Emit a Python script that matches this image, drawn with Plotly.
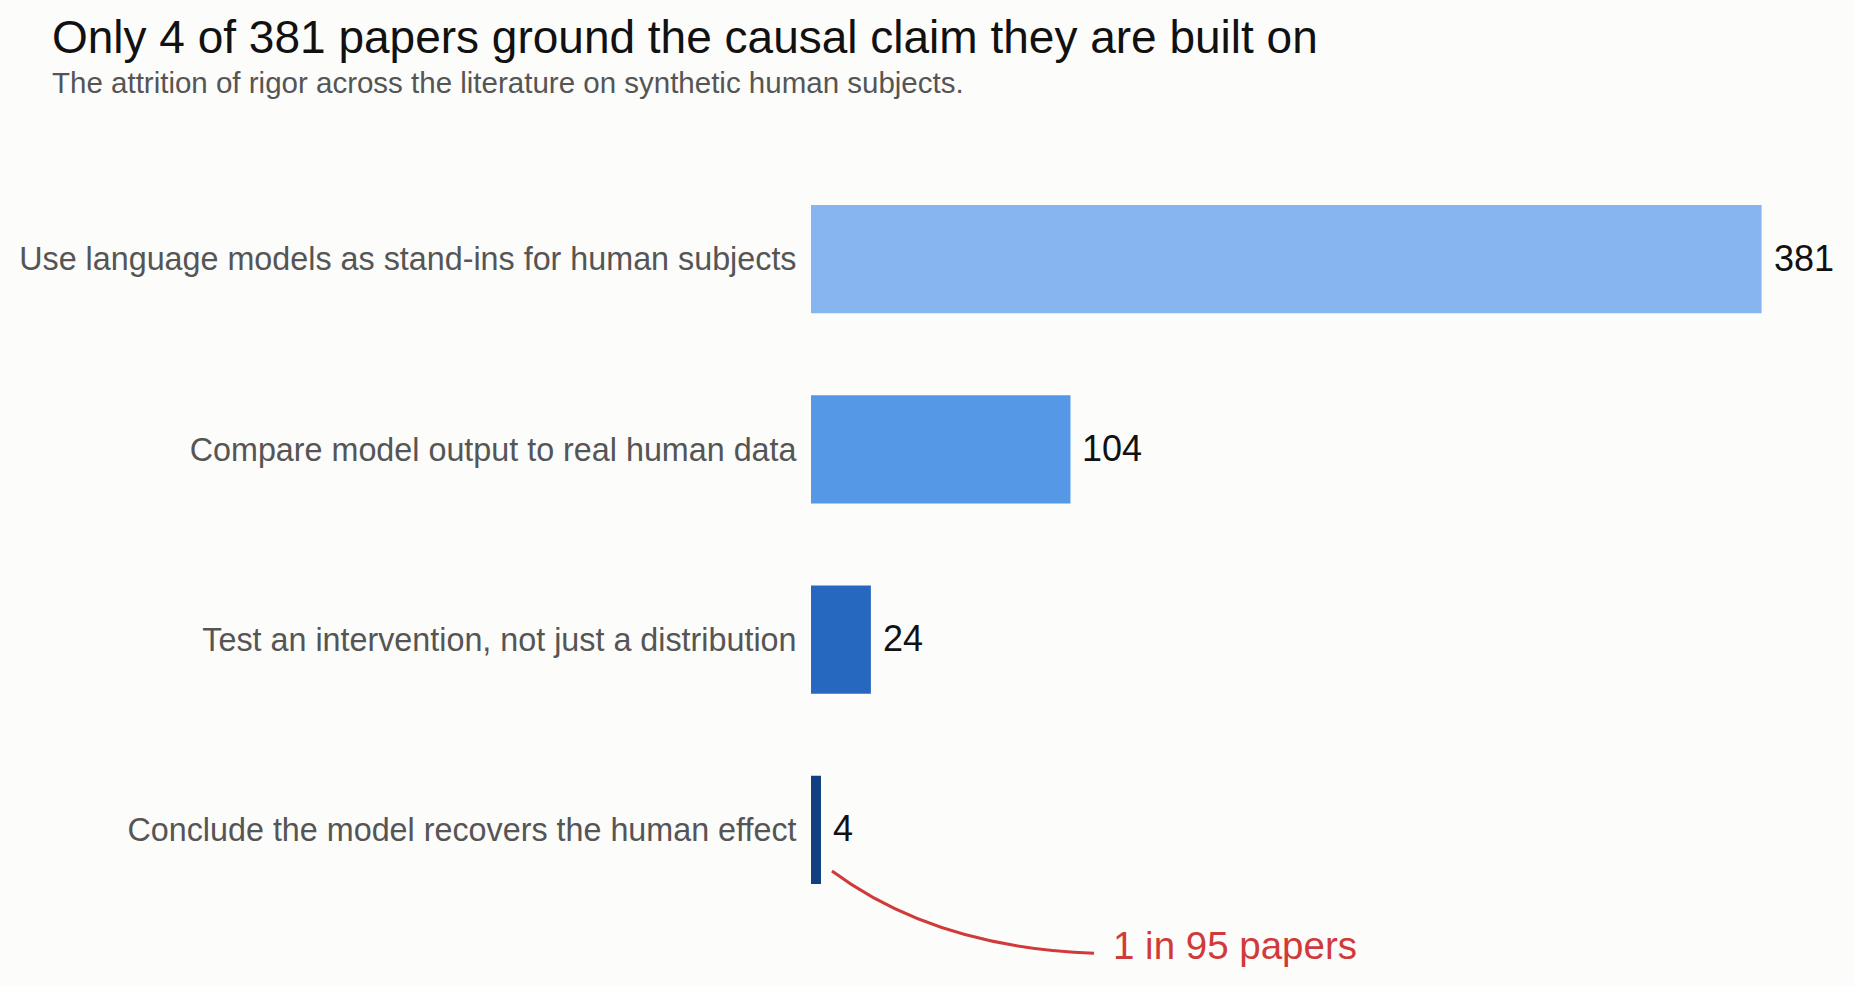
import plotly.graph_objects as go

categories = [
    "Use language models as stand-ins for human subjects",
    "Compare model output to real human data",
    "Test an intervention, not just a distribution",
    "Conclude the model recovers the human effect",
]
counts = [381, 104, 24, 4]
bar_colors = ["#86b5ef", "#5598e6", "#2668c0", "#103f82"]

title_text = "Only 4 of 381 papers ground the causal claim they are built on"
subtitle_text = "The attrition of rigor across the literature on synthetic human subjects."
callout_text = "1 in 95 papers"

BG = "#fcfcfa"
FONT = "Liberation Sans, Arial, Helvetica, sans-serif"

# plot area in pixels
L, R, T, B = 811, 45, 164, 61
W, H = 1854, 986
PW, PH = W - L - R, H - T - B


def px_x(x):
    return (x - L) / PW


def px_y(y):
    return (H - B - y) / PH


fig = go.Figure()
fig.add_trace(go.Bar(
    x=counts, y=categories, orientation="h",
    marker=dict(color=bar_colors, line=dict(width=0)),
    hoverinfo="skip", showlegend=False,
))

for c, v in zip(categories, counts):
    fig.add_annotation(x=v, y=c, xref="x", yref="y", text=str(v),
                       showarrow=False, xanchor="left", yanchor="middle",
                       xshift=10, yshift=1, font=dict(size=36, color="#111111", family=FONT))

# title and subtitle
fig.add_annotation(x=px_x(50), y=px_y(37), xref="paper", yref="paper",
                   text=title_text, showarrow=False, xanchor="left", yanchor="middle",
                   font=dict(size=46, color="#111111", family=FONT))
fig.add_annotation(x=px_x(50), y=px_y(82), xref="paper", yref="paper",
                   text=subtitle_text, showarrow=False, xanchor="left", yanchor="middle",
                   font=dict(size=29.5, color="#555555", family=FONT))

# curved callout connector (paper coordinates)
fig.add_shape(type="path", xref="paper", yref="paper",
              path="M 0.021,0.071 Q 0.125,-0.03 0.2836,-0.037",
              line=dict(color="#d13a3a", width=3))
fig.add_annotation(x=0.3006, y=-0.027, xref="paper", yref="paper",
                   text=callout_text, showarrow=False, xanchor="left", yanchor="middle",
                   font=dict(size=38.5, color="#d13a3a", family=FONT))

fig.update_layout(
    width=W, height=H,
    paper_bgcolor=BG, plot_bgcolor=BG,
    margin=dict(l=L, r=R, t=T, b=B),
    bargap=0.43,
    font=dict(family=FONT),
    xaxis=dict(range=[0, 400], visible=False, fixedrange=True),
    yaxis=dict(
        categoryorder="array", categoryarray=categories, autorange="reversed",
        showgrid=False, zeroline=False, showline=False, fixedrange=True,
        ticks="outside", ticklen=7, tickcolor=BG,
        tickfont=dict(size=32.3, color="#555555", family=FONT),
    ),
)

fig.write_html("out.html", config={"displayModeBar": False},
               post_script="document.body.style.margin='0';document.body.style.background='" + BG + "';")
